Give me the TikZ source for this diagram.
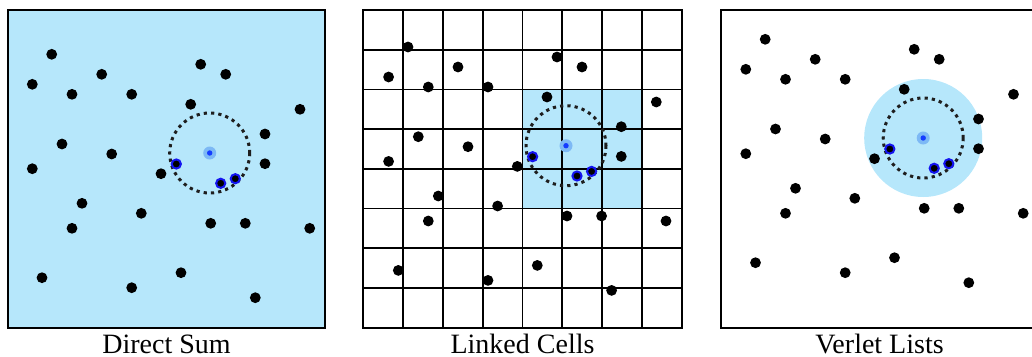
\documentclass[tikz,border=0pt]{standalone}
\usepackage{fontspec}
\setmainfont{Liberation Serif}
\definecolor{cellblue}{RGB}{182,231,251}
\definecolor{halo}{RGB}{125,185,245}
\definecolor{core}{RGB}{20,60,255}
\definecolor{ring}{RGB}{20,20,240}
\definecolor{dotc}{RGB}{30,30,30}
\tikzset{
  frame/.style={draw=black,line width=2pt},
  gridline/.style={draw=black,line width=1.8pt},
  particle/.style={fill=black},
  ringed/.style={fill=black,draw=ring,line width=2pt},
  cutoff/.style={draw=dotc,line width=3pt,dash pattern=on 3.2pt off 4.1pt},
  lbl/.style={font=\fontsize{28}{30}\selectfont,anchor=base,inner sep=0pt}
}
\newcommand{\drawparticles}{%
  \foreach \px/\py in {51.7/54.3,32.3/84.3,101.7/74.3,72/94.3,131.7/94.3,200.7/64.3,225.7/74.3,190.7/104.3,300/109.3,265/134,265/163.7,62/144,111.7/154,32.3/168.7,161/173.7,82/203.3,72/228.3,141.3/213.3,210.7/223.3,245.3/223.3,309.7/228.3,42/277.7,181/272.7,131.7/287.7,255.3/297.7}
    {\fill[particle] (\px,\py) circle[radius=5.4];}
  \foreach \px/\py in {176.3/164,220.7/183.3,235.3/178.7}
    {\draw[ringed] (\px,\py) circle[radius=4.6];}
  \fill[halo] (209.7,153) circle[radius=6.5];
  \fill[core] (209.7,153) circle[radius=2.7];
}
\begin{document}
\begin{tikzpicture}[x=1pt,y=-1pt]
\useasboundingbox (0,0) rectangle (1032,356);
\clip (0,0) rectangle (1032,356);
% ---- Panel 1: Direct Sum
\fill[cellblue] (8,10) rectangle (325,327.5);
\draw[frame] (8,10) rectangle (325,327.5);
\draw[cutoff] (209.7,153) circle[radius=40];
\drawparticles
\node[lbl] (l1) at (166.5,353) {Direct Sum};
% ---- Panel 2: Linked Cells
\fill[cellblue] (522.5,89.4) rectangle (641.9,208.5);
\foreach \k in {1,...,7} {
  \draw[gridline] ({363.3+39.8*\k},10) -- ({363.3+39.8*\k},327.7);
  \draw[gridline] (363.3,{10+39.71*\k}) -- (681.7,{10+39.71*\k});
}
\draw[frame] (363.3,10) rectangle (681.7,327.7);
\begin{scope}[shift={(356.3,-7.3)}]
  \draw[cutoff] (209.7,153) circle[radius=40];
  \drawparticles
\end{scope}
\node[lbl] (l2) at (522.5,353) {Linked Cells};
% ---- Panel 3: Verlet Lists
\draw[frame] (721,10) rectangle (1038,327.5);
\begin{scope}[shift={(713.5,-15)}]
  \fill[cellblue] (209.7,153) circle[radius=59];
  \draw[cutoff] (209.7,153) circle[radius=40];
  \drawparticles
\end{scope}
\node[lbl] (l3) at (879.5,353) {Verlet Lists};
\end{tikzpicture}
\end{document}
